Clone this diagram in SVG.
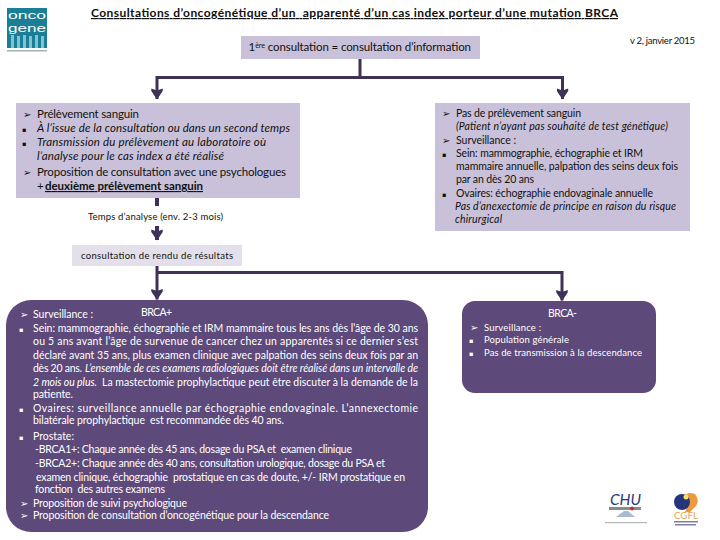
<svg xmlns="http://www.w3.org/2000/svg" width="720" height="540" viewBox="0 0 720 540">
<style>
text{font-family:"Lato","Liberation Sans",sans-serif;fill:#111;white-space:pre}
.t{font-size:10.5px}
.l{font-size:11.5px}
.s{font-size:9.5px}
.i{font-style:italic}
.w{fill:#fff}
.g{font-family:"DejaVu Sans",sans-serif;font-size:10px}
.b{font-family:"DejaVu Sans",sans-serif;font-size:6.500px}
.title{font-size:12px;font-weight:bold;text-decoration:underline}
.light{fill:#C9C1D9}
.pale{fill:#E3E0EC}
.dark{fill:#5D4A7A}
.c{fill:none;stroke:#3F3157;stroke-width:3}
</style>
<defs>
<marker id="ah" markerUnits="userSpaceOnUse" markerWidth="12" markerHeight="12" refX="6" refY="11" orient="0" viewBox="0 0 12 12">
<path d="M0.300 0.500L6 2.500L11.700 0.500L11.700 3L6 11.500L0.300 3Z" fill="#3F3157"/>
</marker>
</defs>

<g id="logo-oncogene">
<rect x="7" y="8" width="40" height="40" fill="#1A7F96"/>
<text x="8" y="19" font-size="11" style="fill:#fff;font-family:'Liberation Sans',sans-serif" textLength="38" lengthAdjust="spacingAndGlyphs">onco</text>
<text x="8" y="32" font-size="11" style="fill:#fff;font-family:'Liberation Sans',sans-serif" textLength="38" lengthAdjust="spacingAndGlyphs">gene</text>
<g fill="#7FC4D2"><rect x="11" y="35" width="3" height="13"/><rect x="17" y="36" width="3" height="12"/><rect x="23" y="35" width="3" height="13"/><rect x="29" y="36" width="3" height="12"/><rect x="35" y="35" width="3" height="13"/><rect x="41" y="36" width="3" height="12"/></g>
<rect x="7" y="50" width="40" height="1.500" fill="#9AB5BC"/>
</g>

<g id="title"><text class="title" x="91" y="17" textLength="527">Consultations d’oncogénétique d’un  apparenté d’un cas index porteur d’une mutation BRCA</text></g>
<g id="version"><text class="s" x="630" y="44" textLength="65">v 2, janvier 2015</text></g>

<g id="connectors">
<path class="c" d="M360 59V77.500H157V99" marker-end="url(#ah)"/>
<path class="c" d="M360 77.500H562.500V99" marker-end="url(#ah)"/>
<path class="c" style="stroke-width:4" d="M157 198V206"/>
<path class="c" style="stroke-width:4" d="M157 226V240" marker-end="url(#ah)"/>
<path class="c" d="M157 266V299.500" marker-end="url(#ah)"/>
<path class="c" d="M157 272.500H562V300.500" marker-end="url(#ah)"/>
</g>

<g id="node-premiere">
<rect class="light" x="241" y="36" width="239" height="23"/>
<text class="l" x="248.500" y="51">1<tspan font-size="7" dy="-3.500">ère</tspan></text>
<text class="l" x="265" y="51" textLength="206"> consultation = consultation d’information</text>
</g>

<g id="node-prelevement">
<rect class="light" x="16" y="103" width="284" height="95"/>
<text class="g" x="23" y="118">➢</text>
<text class="l" x="37" y="118" textLength="102">Prélèvement sanguin</text>
<text class="b" x="22" y="132">▪</text>
<text class="l i" x="37" y="132" textLength="253">À l’issue de la consultation ou dans un second temps</text>
<text class="b" x="22" y="146">▪</text>
<text class="l i" x="37" y="146" textLength="229">Transmission du prélèvement au laboratoire où</text>
<text class="l i" x="37" y="160" textLength="187">l’analyse pour le cas index a été réalisé</text>
<text class="g" x="23" y="176">➢</text>
<text class="l" x="37" y="176" textLength="249">Proposition de consultation avec une psychologues</text>
<text class="l" x="37" y="190">+</text>
<text class="l" x="45" y="190" textLength="158" style="text-decoration:underline;font-weight:bold">deuxième prélèvement sanguin</text>
</g>

<g id="label-temps"><text class="s" x="88" y="220" textLength="135">Temps d’analyse (env. 2-3 mois)</text></g>

<g id="node-rendu">
<rect class="pale" x="72" y="245" width="170" height="21"/>
<text class="s" x="81" y="259" textLength="152">consultation de rendu de résultats</text>
</g>

<g id="node-pas-prelevement">
<rect class="light" x="435" y="103" width="255" height="128"/>
<text class="g" x="442" y="117">➢</text>
<text class="t" x="456" y="117" textLength="125">Pas de prélèvement sanguin</text>
<text class="t i" x="456" y="130" textLength="212">(Patient n’ayant pas souhaité de test génétique)</text>
<text class="g" x="442" y="144">➢</text>
<text class="t" x="456" y="144" textLength="60">Surveillance :</text>
<text class="b" x="442" y="157">▪</text>
<text class="t" x="456" y="157" textLength="187">Sein: mammographie, échographie et IRM</text>
<text class="t" x="456" y="170" textLength="222">mammaire annuelle, palpation des seins deux fois</text>
<text class="t" x="456" y="183" textLength="78">par an dès 20 ans</text>
<text class="b" x="442" y="197">▪</text>
<text class="t" x="456" y="197" textLength="197">Ovaires: échographie endovaginale annuelle</text>
<text class="t i" x="455" y="210" textLength="221">Pas d’anexectomie de principe en raison du risque</text>
<text class="t i" x="455" y="223" textLength="47">chirurgical</text>
</g>

<g id="node-brca-plus">
<rect class="dark" x="6" y="300" width="422" height="232" rx="25" ry="25"/>
<text class="t w" x="141" y="316" textLength="31">BRCA+</text>
<text class="g w" x="20" y="318">➢</text>
<text class="t w" x="33" y="318" textLength="60">Surveillance :</text>
<text class="b w" x="19" y="332">▪</text>
<text class="t w" x="33" y="332" textLength="385">Sein: mammographie, échographie et IRM mammaire tous les ans dès l’âge de 30 ans</text>
<text class="t w" x="33" y="345" textLength="385">ou 5 ans avant l’âge de survenue de cancer chez un apparentés si ce dernier s’est</text>
<text class="t w" x="33" y="359" textLength="385">déclaré avant 35 ans, plus examen clinique avec palpation des seins deux fois par an</text>
<text class="t w" x="33" y="372" textLength="49">dès 20 ans.</text>
<text class="t i w" x="85" y="372" textLength="333">L’ensemble de ces examens radiologiques doit être réalisé dans un intervalle de</text>
<text class="t i w" x="33" y="386" textLength="64">2 mois ou plus.</text>
<text class="t w" x="102" y="386" textLength="316">La mastectomie prophylactique peut être discuter à la demande de la</text>
<text class="t w" x="33" y="398" textLength="40">patiente.</text>
<text class="b w" x="19" y="412">▪</text>
<text class="t w" x="33" y="412" textLength="385">Ovaires: surveillance annuelle par échographie endovaginale. L’annexectomie</text>
<text class="t w" x="33" y="424" textLength="251">bilatérale prophylactique  est recommandée dès 40 ans.</text>
<text class="b w" x="19" y="440">▪</text>
<text class="t w" x="33" y="440" textLength="41">Prostate:</text>
<text class="t w" x="35" y="453" textLength="317">-BRCA1+: Chaque année dès 45 ans, dosage du PSA et  examen clinique</text>
<text class="t w" x="35" y="467" textLength="350">-BRCA2+: Chaque année dès 40 ans, consultation urologique, dosage du PSA et</text>
<text class="t w" x="36" y="481" textLength="369">examen clinique, échographie  prostatique en cas de doute, +/- IRM prostatique en</text>
<text class="t w" x="35" y="493" textLength="130">fonction  des autres examens</text>
<text class="g w" x="20" y="507">➢</text>
<text class="t w" x="33" y="507" textLength="154">Proposition de suivi psychologique</text>
<text class="g w" x="20" y="519">➢</text>
<text class="t w" x="33" y="519" textLength="296">Proposition de consultation d’oncogénétique pour la descendance</text>
</g>

<g id="node-brca-moins">
<rect class="dark" x="462" y="301" width="194" height="92" rx="13" ry="13"/>
<text class="t w" x="548" y="317" textLength="29">BRCA-</text>
<text class="g w" x="470" y="331">➢</text>
<text class="s w" x="484" y="331" textLength="57">Surveillance :</text>
<text class="b w" x="469" y="343">▪</text>
<text class="s w" x="484" y="343" textLength="85">Population générale</text>
<text class="b w" x="469" y="356">▪</text>
<text class="s w" x="484" y="356" textLength="158">Pas de transmission à la descendance</text>
</g>

<g id="logo-chu">
<text x="610" y="505" font-size="15" font-style="italic" style="fill:#2A3A7C" textLength="31" lengthAdjust="spacingAndGlyphs">CHU</text>
<rect x="609" y="507" width="32" height="3" fill="#8A8A8A"/>
<circle cx="632" cy="508.500" r="2" fill="#C0303A"/>
<path d="M616 517L624 511H628L635 517Z" fill="#A9BBD2"/>
<rect x="605" y="522" width="42" height="1.200" fill="#B5B5B5"/>
</g>

<g id="logo-cgfl">
<path d="M683 497Q688 491 695 494Q700 500 696 506Q692 510 690 512H685Q688 506 686 503Z" fill="#EE9A3C"/>
<circle cx="682" cy="502" r="8" fill="#26347E"/>
<circle cx="686" cy="497" r="2.500" fill="#EFE36A"/>
<text x="674" y="519" font-size="9" style="fill:#E5A65A" textLength="24" lengthAdjust="spacingAndGlyphs">CGFL</text>
<rect x="674" y="521" width="24" height="1.500" fill="#7C7FA8"/>
<rect x="675" y="524" width="21" height="1.500" fill="#7C7FA8"/>
</g>
</svg>
